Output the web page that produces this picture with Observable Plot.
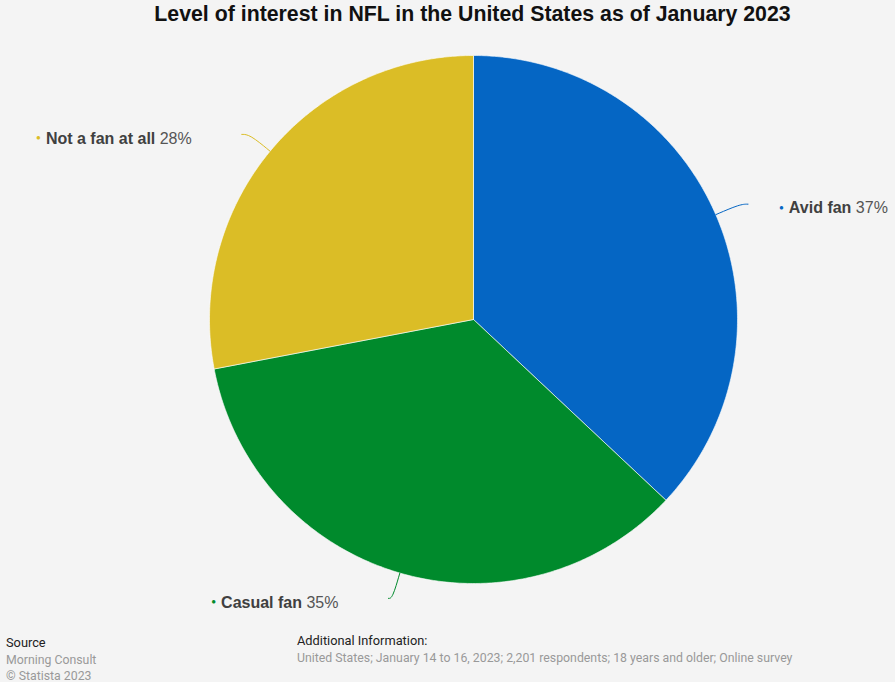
<!DOCTYPE html>
<html>
<head>
<meta charset="utf-8">
<script src="https://cdn.jsdelivr.net/npm/d3@7"></script>
<script src="https://cdn.jsdelivr.net/npm/@observablehq/plot@0.6"></script>
<style>
  html, body { margin: 0; padding: 0; background: #f4f4f4; }
  body { width: 895px; height: 682px; position: relative; overflow: hidden; font-family: "Liberation Sans", Arial, sans-serif; }
  #title { position: absolute; top: 2px; left: 0; width: 945px; text-align: center; font-size: 21.3px; font-weight: bold; color: #111; }
  #chart { position: absolute; top: 30px; left: 0; }
  .foot { position: absolute; font-family: Roboto, "Liberation Sans", sans-serif; font-size: 12.3px; color: #999; white-space: nowrap; }
  .foot.h { font-size: 12.8px; color: #222; }
</style>
</head>
<body>
<div id="title">Level of interest in NFL in the United States as of January 2023</div>
<div id="chart"></div>
<div class="foot h" style="left:6px; top:635px;">Source</div>
<div class="foot" style="left:6px; top:653px;">Morning Consult</div>
<div class="foot" style="left:6px; top:669px;">© Statista 2023</div>
<div class="foot h" style="left:297px; top:633px;">Additional Information:</div>
<div class="foot" style="left:297px; top:651px;">United States; January 14 to 16, 2023; 2,201 respondents; 18 years and older; Online survey</div>
<script>
const categories = ["Avid fan", "Casual fan", "Not a fan at all"];
const shares = [37, 35, 28];
const colors = ["#0566c4", "#008a2c", "#dbbd26"];

const W = 895, H = 600, R = 264, CX = 473, CY = 289;
const arcs = d3.pie().sort(null).value(d => d)(shares);

// slice polygons in unit-radius coordinates
const slicePts = [];
arcs.forEach((a, i) => {
  slicePts.push({cat: categories[i], x: 0, y: 0});
  const n = Math.max(2, Math.ceil((a.endAngle - a.startAngle) / 0.01));
  for (let k = 0; k <= n; k++) {
    const t = a.startAngle + (a.endAngle - a.startAngle) * k / n;
    slicePts.push({cat: categories[i], x: Math.sin(t), y: Math.cos(t)});
  }
  slicePts.push({cat: categories[i], x: 0, y: 0});
});

// connectors: from rim, radially outward, then bending to horizontal
const connPts = [];
const labels = arcs.map((a, i) => {
  const m = (a.startAngle + a.endAngle) / 2;
  const sx = Math.sin(m), sy = Math.cos(m);
  const vertical = Math.abs(sy) > 0.9;
  const right = sx > 0;
  const k = 1.1;
  const hx = (right ? 1 : -1) * (vertical ? 4 : 8) / R;
  connPts.push({cat: categories[i], x: sx, y: sy});
  connPts.push({cat: categories[i], x: k * sx, y: k * sy});
  connPts.push({cat: categories[i], x: k * sx + hx, y: k * sy});
  const ex = k * sx + hx;
  return {
    cat: categories[i], pct: shares[i], color: colors[i], right,
    lx: right ? ex + 31 / R : ex - 50 / R,
    ly: k * sy - 2.5 / R
  };
});

const chart = Plot.plot({
  width: W, height: H,
  margin: 0,
  style: {background: "transparent", fontFamily: "'Liberation Sans', Arial, sans-serif"},
  x: {domain: [-CX / R, (W - CX) / R], range: [0, W], axis: null},
  y: {domain: [-(H - CY) / R, CY / R], range: [H, 0], axis: null},
  color: {domain: categories, range: colors},
  marks: [
    Plot.line(slicePts, {x: "x", y: "y", z: "cat", fill: "cat", stroke: "#ffffff", strokeWidth: 0.6, curve: "linear"}),
    Plot.line(connPts, {x: "x", y: "y", z: "cat", stroke: "cat", strokeWidth: 1, curve: "basis"}),
    Plot.text(labels.filter(d => d.right), {x: "lx", y: "ly", text: "cat", textAnchor: "start", fontSize: 16, fill: "#404040", className: "lbl"}),
    Plot.text(labels.filter(d => !d.right), {x: "lx", y: "ly", text: "cat", textAnchor: "end", fontSize: 16, fill: "#404040", className: "lbl"})
  ]
});

// rich labels: colored dot, bold category, normal percentage
d3.select(chart).selectAll("g.lbl text").each(function() {
  const t = d3.select(this);
  const name = t.text();
  const d = labels.find(l => l.cat === name);
  t.text(null);
  t.append("tspan").attr("fill", d.color).attr("font-size", 8).attr("dy", "-0.2em").text("●");
  t.append("tspan").attr("font-weight", "bold").attr("dy", "0.2em").attr("dx", 5).text(name);
  t.append("tspan").attr("fill", "#555").text(" " + d.pct + "%");
});

document.getElementById("chart").appendChild(chart);
</script>
</body>
</html>
